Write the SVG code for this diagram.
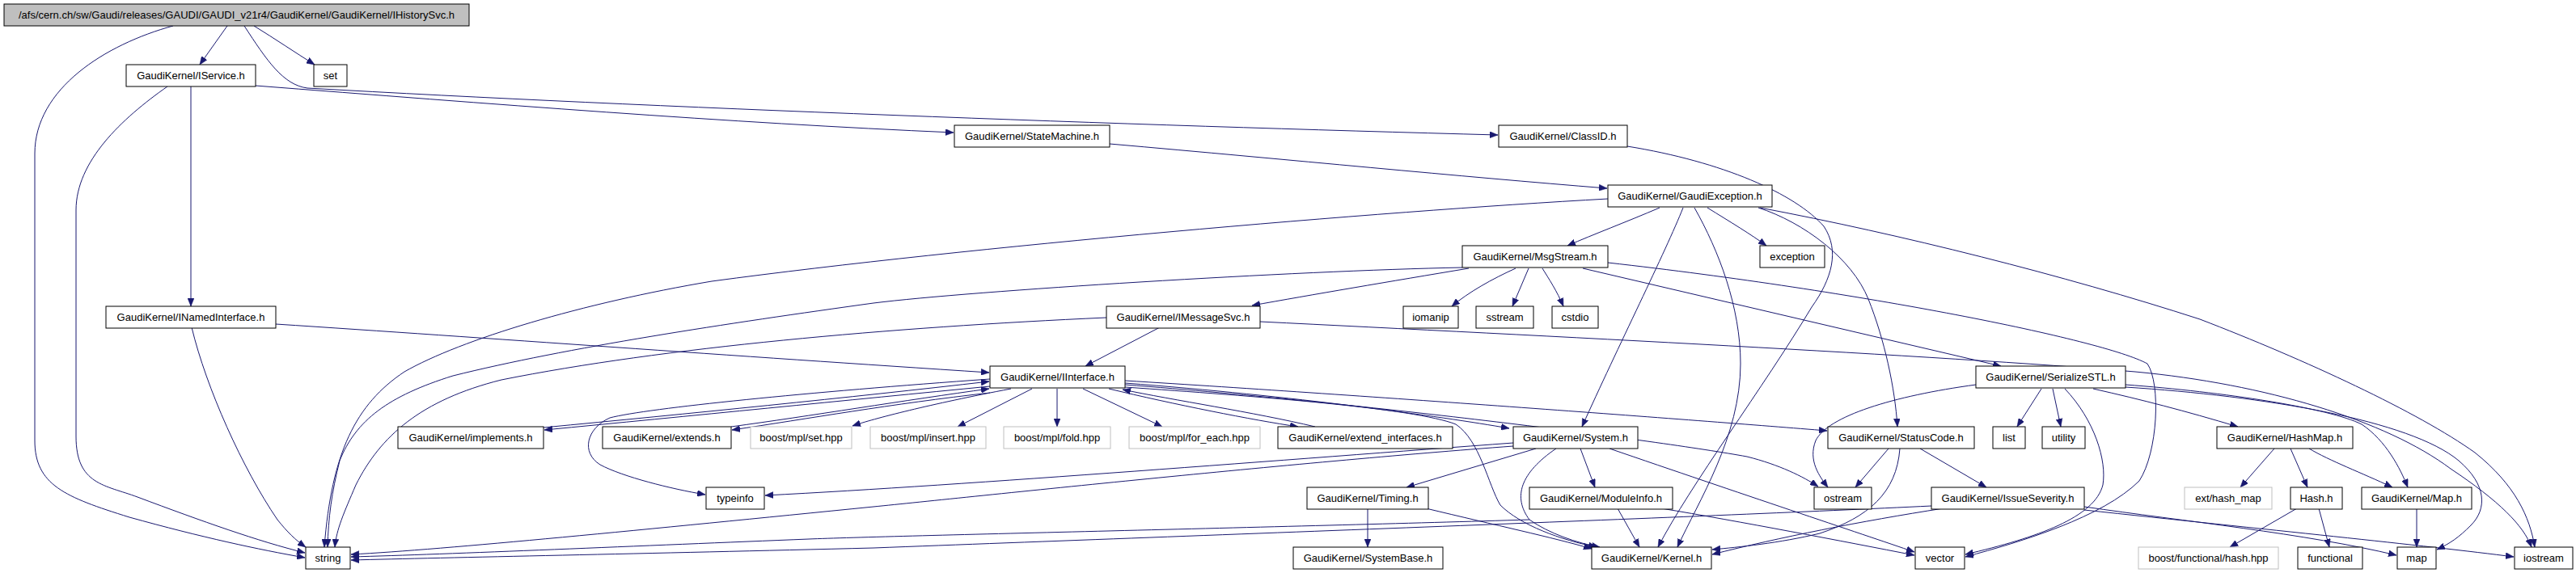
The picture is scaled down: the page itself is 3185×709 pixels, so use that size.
<svg xmlns="http://www.w3.org/2000/svg" width="3185" height="709" viewBox="0 0 3185 709">
<style>
rect{fill:#fff;stroke:#000;stroke-width:1}
.t rect{fill:#bfbfbf}
.g rect{stroke:#bfbfbf}
text{font-family:"Liberation Sans",Arial,sans-serif;font-size:13px;text-anchor:middle;fill:#000}
#edges path{fill:none;stroke:#191970;stroke-width:1;marker-end:url(#a)}
</style>
<defs>
<marker id="a" markerUnits="userSpaceOnUse" markerWidth="11" markerHeight="8" refX="10" refY="4" orient="auto"><path d="M0,0 L10,4 L0,8 z" fill="#191970" stroke="#191970" stroke-width="0.5"/></marker>
</defs>
<rect x="0" y="0" width="3185" height="709" style="fill:#fff;stroke:none"/>
<g id="edges">
<path d="M281,32 C270,48 258,64 247,80"/>
<path d="M314,32 C340,48 365,65 389,80"/>
<path d="M214,32 C130,55 43,110 43,190 L43,545 C43,600 80,615 160,640 C250,665 320,680 377,690"/>
<path d="M302,32 C330,75 350,105 380,109 C800,133 1400,155 1852,167"/>
<path d="M236,107 L236,379"/>
<path d="M207,107 C150,147 94,200 94,260 L94,540 C94,600 130,600 170,615 C250,645 320,670 377,684"/>
<path d="M316,106 C600,128 900,152 1179,164"/>
<path d="M341,401 C600,418 900,440 1223,461"/>
<path d="M237,405 C255,480 300,580 343,643 C355,658 365,668 378,677"/>
<path d="M1372,178 C1600,198 1800,218 1987,233"/>
<path d="M2012,181 C2130,200 2220,240 2255,280 C2275,310 2265,345 2240,380 C2180,480 2090,600 2050,677"/>
<path d="M2052,257 C2010,275 1970,290 1938,304"/>
<path d="M2111,257 C2140,275 2165,290 2184,304"/>
<path d="M2081,257 C2060,310 2000,430 1956,528"/>
<path d="M2095,257 C2125,310 2152,380 2152,450 C2152,540 2100,620 2074,677"/>
<path d="M2174,257 C2230,275 2290,320 2310,370 C2330,420 2343,480 2346,528"/>
<path d="M2176,257 C2350,290 2550,340 2720,395 C2850,445 2990,510 3060,560 C3110,600 3128,640 3134,677"/>
<path d="M1988,246 C1700,262 1200,305 880,348 C720,375 570,420 500,460 C440,500 410,560 401,677"/>
<path d="M1816,332 C1720,348 1620,365 1548,378"/>
<path d="M1808,331 C1600,335 1200,360 1080,375 C900,400 700,430 560,465 C480,490 440,520 420,570 C410,610 406,640 405,677"/>
<path d="M1874,332 C1845,345 1815,362 1795,379"/>
<path d="M1890,332 L1870,379"/>
<path d="M1907,332 C1915,345 1925,360 1933,379"/>
<path d="M1957,332 L2474,453"/>
<path d="M1988,325 C2300,360 2600,420 2655,450 C2672,475 2668,560 2645,595 C2600,640 2500,670 2430,689"/>
<path d="M1434,405 L1342,453"/>
<path d="M1368,393 C1100,405 820,430 620,470 C520,495 470,540 440,600 C425,635 416,655 414,677"/>
<path d="M1558,398 C1900,415 2400,440 2640,460 C2800,475 2950,520 3030,580 C3090,620 3120,650 3130,677"/>
<path d="M1224,478 C1050,495 850,515 673,532"/>
<path d="M672,529 C850,512 1050,492 1223,472"/>
<path d="M904,528 C1000,515 1120,495 1223,481"/>
<path d="M1224,486 C1100,500 1000,518 905,532"/>
<path d="M1250,481 C1150,500 1080,518 1054,527"/>
<path d="M1276,481 L1184,528"/>
<path d="M1307,481 L1307,528"/>
<path d="M1339,481 L1437,528"/>
<path d="M1371,481 C1450,500 1550,520 1605,528"/>
<path d="M1626,528 C1550,510 1450,495 1388,482"/>
<path d="M1224,469 C1000,485 800,505 754,517 C725,530 718,560 742,575 C770,590 830,605 872,612"/>
<path d="M1391,474 C1600,490 1780,515 1866,530"/>
<path d="M1391,471 C1700,490 2100,520 2259,533"/>
<path d="M1391,476 C1700,500 2050,545 2160,565 C2200,575 2230,590 2248,602"/>
<path d="M1391,479 C1550,490 1750,505 1800,525 C1830,545 1840,600 1855,625 C1880,650 1930,668 1974,677"/>
<path d="M1871,548 C1600,568 1200,600 946,613"/>
<path d="M1871,552 C1600,572 1200,615 1080,627 C800,655 550,680 434,686"/>
<path d="M1924,555 C1880,585 1870,615 1891,643 C1915,660 1950,672 1978,677"/>
<path d="M1899,555 L1739,603"/>
<path d="M1954,555 L1972,603"/>
<path d="M1990,555 C2150,610 2300,660 2367,683"/>
<path d="M1691,629 L1691,677"/>
<path d="M1763,629 C1850,650 1920,665 1968,679"/>
<path d="M2000,629 L2027,677"/>
<path d="M1891,643 C1600,652 1100,663 1000,667 C800,675 550,686 434,689"/>
<path d="M2054,629 C2150,645 2280,670 2367,687"/>
<path d="M2335,555 L2294,603"/>
<path d="M2374,555 L2456,603"/>
<path d="M2349,555 C2345,610 2310,640 2250,660 C2200,672 2150,677 2117,680"/>
<path d="M2403,629 C2300,645 2200,665 2117,686"/>
<path d="M2388,626 C2100,640 1500,662 1080,678 C800,685 550,690 434,693"/>
<path d="M2577,627 C2700,645 2850,660 2963,687"/>
<path d="M2577,631 C2800,655 3000,675 3108,689"/>
<path d="M2443,476 C2340,490 2260,515 2245,545 C2235,570 2250,590 2260,603"/>
<path d="M2524,481 L2494,528"/>
<path d="M2538,481 L2548,528"/>
<path d="M2553,481 C2590,520 2605,570 2600,600 C2590,640 2520,665 2430,686"/>
<path d="M2588,481 C2650,495 2700,508 2767,528"/>
<path d="M2628,476 C2750,485 2880,505 2920,525 C2950,545 2968,580 2977,603"/>
<path d="M2628,479 C2800,490 2980,520 3040,570 C3075,600 3075,630 3055,650 C3040,665 3030,672 3013,680"/>
<path d="M2812,555 L2770,603"/>
<path d="M2832,555 L2853,603"/>
<path d="M2855,555 C2880,570 2920,585 2958,603"/>
<path d="M2840,629 L2757,677"/>
<path d="M2867,629 L2880,677"/>
<path d="M2988,629 L2988,677"/>
</g>
<g id="n_IHistorySvc" class="t"><rect x="5" y="5" width="575" height="27"/><text x="292.5" y="23">/afs/cern.ch/sw/Gaudi/releases/GAUDI/GAUDI_v21r4/GaudiKernel/GaudiKernel/IHistorySvc.h</text></g>
<g id="n_IService"><rect x="156" y="80" width="160" height="27"/><text x="236" y="98">GaudiKernel/IService.h</text></g>
<g id="n_set"><rect x="388" y="80" width="41" height="27"/><text x="408.5" y="98">set</text></g>
<g id="n_StateMachine"><rect x="1180" y="155" width="192" height="27"/><text x="1276" y="173">GaudiKernel/StateMachine.h</text></g>
<g id="n_ClassID"><rect x="1853" y="155" width="159" height="27"/><text x="1932.5" y="173">GaudiKernel/ClassID.h</text></g>
<g id="n_GaudiException"><rect x="1988" y="229" width="203" height="27"/><text x="2089.5" y="247">GaudiKernel/GaudiException.h</text></g>
<g id="n_MsgStream"><rect x="1808" y="304" width="180" height="27"/><text x="1898" y="322">GaudiKernel/MsgStream.h</text></g>
<g id="n_exception"><rect x="2176" y="304" width="80" height="27"/><text x="2216" y="322">exception</text></g>
<g id="n_INamedInterface"><rect x="131" y="379" width="210" height="27"/><text x="236" y="397">GaudiKernel/INamedInterface.h</text></g>
<g id="n_IMessageSvc"><rect x="1368" y="379" width="190" height="27"/><text x="1463" y="397">GaudiKernel/IMessageSvc.h</text></g>
<g id="n_iomanip"><rect x="1735" y="379" width="68" height="27"/><text x="1769" y="397">iomanip</text></g>
<g id="n_sstream"><rect x="1825" y="379" width="71" height="27"/><text x="1860.5" y="397">sstream</text></g>
<g id="n_cstdio"><rect x="1919" y="379" width="57" height="27"/><text x="1947.5" y="397">cstdio</text></g>
<g id="n_IInterface"><rect x="1224" y="453" width="167" height="27"/><text x="1307.5" y="471">GaudiKernel/IInterface.h</text></g>
<g id="n_SerializeSTL"><rect x="2443" y="453" width="185" height="27"/><text x="2535.5" y="471">GaudiKernel/SerializeSTL.h</text></g>
<g id="n_implements"><rect x="492" y="528" width="180" height="27"/><text x="582" y="546">GaudiKernel/implements.h</text></g>
<g id="n_extends"><rect x="745" y="528" width="159" height="27"/><text x="824.5" y="546">GaudiKernel/extends.h</text></g>
<g id="n_mplset" class="g"><rect x="928" y="528" width="125" height="27"/><text x="990.5" y="546">boost/mpl/set.hpp</text></g>
<g id="n_mplinsert" class="g"><rect x="1076" y="528" width="143" height="27"/><text x="1147.5" y="546">boost/mpl/insert.hpp</text></g>
<g id="n_mplfold" class="g"><rect x="1241" y="528" width="132" height="27"/><text x="1307" y="546">boost/mpl/fold.hpp</text></g>
<g id="n_mplforeach" class="g"><rect x="1396" y="528" width="162" height="27"/><text x="1477" y="546">boost/mpl/for_each.hpp</text></g>
<g id="n_extend_interfaces"><rect x="1580" y="528" width="216" height="27"/><text x="1688" y="546">GaudiKernel/extend_interfaces.h</text></g>
<g id="n_System"><rect x="1871" y="528" width="154" height="27"/><text x="1948" y="546">GaudiKernel/System.h</text></g>
<g id="n_StatusCode"><rect x="2260" y="528" width="181" height="27"/><text x="2350.5" y="546">GaudiKernel/StatusCode.h</text></g>
<g id="n_list"><rect x="2464" y="528" width="40" height="27"/><text x="2484" y="546">list</text></g>
<g id="n_utility"><rect x="2525" y="528" width="53" height="27"/><text x="2551.5" y="546">utility</text></g>
<g id="n_HashMap"><rect x="2741" y="528" width="168" height="27"/><text x="2825" y="546">GaudiKernel/HashMap.h</text></g>
<g id="n_typeinfo"><rect x="873" y="603" width="72" height="27"/><text x="909" y="621">typeinfo</text></g>
<g id="n_Timing"><rect x="1616" y="603" width="150" height="27"/><text x="1691" y="621">GaudiKernel/Timing.h</text></g>
<g id="n_ModuleInfo"><rect x="1891" y="603" width="177" height="27"/><text x="1979.5" y="621">GaudiKernel/ModuleInfo.h</text></g>
<g id="n_ostream"><rect x="2243" y="603" width="71" height="27"/><text x="2278.5" y="621">ostream</text></g>
<g id="n_IssueSeverity"><rect x="2388" y="603" width="189" height="27"/><text x="2482.5" y="621">GaudiKernel/IssueSeverity.h</text></g>
<g id="n_ext_hash_map" class="g"><rect x="2701" y="603" width="108" height="27"/><text x="2755" y="621">ext/hash_map</text></g>
<g id="n_Hash"><rect x="2832" y="603" width="64" height="27"/><text x="2864" y="621">Hash.h</text></g>
<g id="n_Map"><rect x="2920" y="603" width="136" height="27"/><text x="2988" y="621">GaudiKernel/Map.h</text></g>
<g id="n_string"><rect x="378" y="677" width="55" height="27"/><text x="405.5" y="695">string</text></g>
<g id="n_SystemBase"><rect x="1599" y="677" width="185" height="27"/><text x="1691.5" y="695">GaudiKernel/SystemBase.h</text></g>
<g id="n_Kernel"><rect x="1968" y="677" width="148" height="27"/><text x="2042" y="695">GaudiKernel/Kernel.h</text></g>
<g id="n_vector"><rect x="2368" y="677" width="61" height="27"/><text x="2398.5" y="695">vector</text></g>
<g id="n_boost_hash" class="g"><rect x="2644" y="677" width="173" height="27"/><text x="2730.5" y="695">boost/functional/hash.hpp</text></g>
<g id="n_functional"><rect x="2841" y="677" width="80" height="27"/><text x="2881" y="695">functional</text></g>
<g id="n_map"><rect x="2964" y="677" width="48" height="27"/><text x="2988" y="695">map</text></g>
<g id="n_iostream"><rect x="3109" y="677" width="72" height="27"/><text x="3145" y="695">iostream</text></g>
</svg>
